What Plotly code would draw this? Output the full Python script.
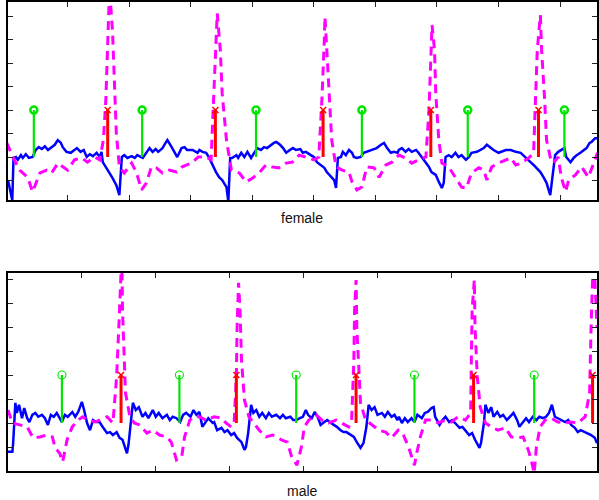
import plotly.graph_objects as go

# ---------------- female (top) ----------------
f_blue_t = [0.03,0.10,0.12,0.16,0.19,0.24,0.27,0.32,0.37,0.43,0.48,0.53,0.58,0.63,0.68,0.74,0.79,0.84,0.89,0.92,0.98,1.05,1.10,1.15,1.21,1.26,1.31,1.36,1.41,1.47,1.52,1.55,1.57,1.63,1.68,1.73,1.79,1.84,1.88,1.92,1.97,2.04,2.09,2.13,2.22,2.28,2.33,2.38,2.43,2.47,2.54,2.59,2.62,2.69,2.73,2.78,2.85,2.90,2.94,3.03,3.11,
            3.14,3.19,3.25,3.30,3.35,3.41,3.46,3.51,3.58,3.61,3.64,3.67,3.74,3.77,3.82,3.87,3.92,3.98,4.03,4.08,4.14,4.19,4.24,4.31,4.35,4.39,4.45,4.50,4.55,4.61,4.66,4.71,4.78,4.82,4.87,4.95,5.00,5.05,5.12,5.17,5.21,5.28,5.33,5.36,5.39,5.44,5.47,5.52,5.57,5.62,5.65,5.70,5.76,5.81,5.86,5.93,5.98,6.02,6.09,6.14,6.19,6.25,6.30,6.36,
            6.38,6.43,6.49,6.54,6.59,6.66,6.70,6.75,6.82,6.87,6.91,6.98,7.03,7.08,7.11,7.14,7.19,7.24,7.30,7.35,7.40,7.47,7.52,7.56,7.65,7.71,7.76,7.81,7.87,7.92,8.00,8.05,8.12,8.20,8.28,8.36,8.44,8.52,8.57,8.62,8.68,8.73,8.78,8.84,8.88,8.92,8.97,9.02,9.07,9.10,9.17,9.22,9.27,9.33,9.38,9.43,9.48,9.51,9.57,9.61]
f_blue_v = [-0.49,-0.92,-0.02,0.0,-0.06,0.04,-0.02,0.06,-0.02,0.0,0.15,0.21,0.17,0.23,0.15,0.21,0.26,0.36,0.30,0.21,0.11,0.09,0.15,0.19,0.11,0.15,0.0,0.06,0.02,0.09,0.0,0.11,-0.11,-0.23,-0.34,-0.45,-0.60,-0.81,0.0,0.04,-0.02,0.02,-0.02,0.04,-0.02,0.11,0.19,0.11,0.17,0.11,0.19,0.30,0.36,0.21,0.11,0.0,0.19,0.21,0.15,0.15,0.09,
            0.15,0.11,0.09,-0.02,-0.17,-0.32,-0.43,-0.49,-0.64,-0.95,-0.02,-0.02,0.04,-0.02,0.09,0.0,0.11,-0.02,0.09,0.19,0.15,0.21,0.19,0.26,0.30,0.32,0.26,0.19,0.09,0.15,0.19,0.15,0.17,0.09,0.11,0.04,0.0,-0.11,-0.17,-0.23,-0.32,-0.43,-0.49,-0.66,-0.02,0.0,0.11,0.04,0.15,0.09,0.0,-0.02,0.0,0.09,0.11,0.15,0.17,0.19,0.26,0.30,0.19,0.09,0.11,0.09,
            0.15,0.19,0.11,0.17,0.11,0.15,0.09,0.0,-0.11,-0.21,-0.32,-0.38,-0.53,-0.66,-0.55,0.0,0.04,0.0,0.09,0.0,0.04,-0.06,0.0,0.09,0.11,0.15,0.19,0.26,0.19,0.15,0.09,0.11,0.15,0.15,0.11,0.09,0.0,-0.11,-0.17,-0.23,-0.32,-0.43,-0.55,-0.81,-0.32,0.04,0.11,0.15,0.19,0.0,-0.11,-0.02,0.04,0.09,0.15,0.19,0.30,0.32,0.40,0.40]

f_mag_t = [0.01,0.11,0.22,0.35,0.43,0.55,0.66,0.74,0.84,0.92,1.00,1.11,1.23,1.32,1.44,1.52,1.58,1.62,1.65,1.68,1.73,1.76,1.79,1.84,1.92,2.04,2.12,2.20,2.28,2.36,2.44,2.54,2.65,2.77,2.86,3.01,3.12,3.25,3.33,3.37,3.40,3.43,3.48,3.51,3.58,3.66,3.79,3.90,4.00,4.11,4.22,4.31,4.43,4.55,4.65,4.76,4.87,5.00,5.08,5.13,5.17,5.18,5.21,5.26,5.29,5.36,5.46,5.57,5.62,5.70,5.78,5.86,5.98,6.06,6.17,6.27,6.38,6.49,6.59,6.70,6.82,6.87,6.90,6.92,6.96,6.98,7.03,7.08,7.19,7.32,7.40,7.48,7.56,7.68,7.76,7.81,7.89,8.00,8.12,8.20,8.28,8.37,8.49,8.57,8.60,8.63,8.68,8.70,8.75,8.78,8.84,8.89,8.97,9.02,9.09,9.14,9.25,9.35,9.46,9.54,9.61]
f_mag_v = [0.30,0.0,-0.28,-0.43,-0.74,-0.34,-0.28,-0.34,-0.13,-0.21,-0.28,-0.06,-0.02,-0.11,0.0,-0.06,0.36,1.21,2.28,3.6,2.64,1.57,0.51,-0.21,-0.34,-0.13,-0.34,-0.70,-0.55,-0.21,-0.23,-0.34,-0.28,-0.32,-0.21,-0.13,0.0,0.0,-0.06,1.21,2.28,3.06,2.28,1.36,0.36,-0.28,-0.34,-0.53,-0.45,-0.34,-0.17,-0.21,-0.23,-0.13,-0.11,0.04,0.0,-0.06,0.0,1.21,2.49,2.98,2.28,1.21,0.36,-0.21,-0.28,-0.32,-0.53,-0.70,-0.64,-0.21,-0.23,-0.43,-0.17,-0.11,0.04,-0.02,-0.13,-0.06,0.0,1.0,1.91,2.81,2.28,1.36,0.36,-0.13,-0.21,-0.49,-0.64,-0.66,-0.34,-0.23,-0.28,-0.49,-0.21,-0.13,-0.06,-0.02,-0.17,-0.13,-0.02,0.09,1.21,2.28,3.02,2.28,1.21,0.36,0.0,-0.13,0.0,-0.43,-0.74,-0.49,-0.38,-0.21,-0.43,-0.13,0.09]

f_onset_t = [0.45,2.21,4.06,5.78,7.50,9.07]
f_peak_t = [1.65,3.40,5.15,6.90,8.65]

# ---------------- male (bottom) ----------------
m_blue_t = [0.00,0.06,0.07,0.10,0.12,0.15,0.19,0.22,0.26,0.29,0.33,0.37,0.41,0.46,0.50,0.54,0.58,0.62,0.66,0.73,0.77,0.81,0.87,0.91,0.95,1.00,1.03,1.07,1.11,1.15,1.20,1.24,1.28,1.34,1.38,1.42,1.47,1.51,1.55,1.61,1.63,1.67,1.69,1.73,1.77,1.82,1.86,1.90,1.96,2.00,2.04,2.09,2.15,2.19,2.23,2.28,2.33,2.37,2.41,2.47,2.51,2.55,
            2.59,2.63,2.67,2.71,2.77,2.79,2.83,2.89,2.93,2.97,3.02,3.06,3.10,3.16,3.20,3.22,3.25,3.29,3.32,3.36,3.40,3.44,3.49,3.53,3.57,3.63,3.68,3.72,3.76,3.82,3.86,3.90,3.95,3.99,4.03,4.06,4.11,4.15,4.19,4.23,4.28,4.32,4.37,4.41,4.45,4.50,4.54,4.58,4.64,4.68,4.72,4.77,4.81,4.85,4.88,4.92,4.96,5.00,5.06,5.10,5.14,5.19,5.23,5.27,
            5.29,5.33,5.37,5.41,5.46,5.50,5.54,5.60,5.64,5.68,5.73,5.76,5.78,5.84,5.88,5.92,5.97,6.01,6.05,6.11,6.15,6.19,6.24,6.28,6.32,6.38,6.40,6.44,6.46,6.50,6.54,6.57,6.62,6.66,6.70,6.75,6.79,6.84,6.89,6.92,6.97,7.01,7.05,7.10,7.15,7.19,7.24,7.28,7.32,7.36,7.40,7.44,7.48,7.54,7.58,7.62,7.67,7.71,7.75,7.81,7.85,7.89,7.94,7.97]
m_blue_v = [-0.60,-0.60,-0.42,0.42,0.21,0.38,0.10,0.31,0.10,0.02,0.17,0.21,0.13,0.17,0.10,-0.04,0.17,0.13,0.21,0.02,0.17,0.13,0.23,0.13,0.23,0.44,0.27,0.0,-0.15,0.06,0.02,0.02,-0.08,-0.21,-0.19,-0.25,-0.19,-0.31,-0.35,-0.63,-0.46,0.13,0.42,0.27,0.33,0.13,0.21,0.10,0.27,0.13,0.21,0.10,0.17,0.06,0.13,0.10,0.02,0.17,0.21,0.13,0.27,0.17,
            0.23,-0.08,0.02,0.10,0.0,0.02,-0.15,-0.10,-0.19,-0.15,-0.25,-0.21,-0.31,-0.40,-0.56,-0.50,-0.21,0.38,0.21,0.27,0.13,0.21,0.10,0.21,0.13,0.17,0.10,0.17,0.10,0.13,0.06,0.06,0.10,0.13,0.27,0.17,0.10,0.23,0.13,-0.04,0.02,0.06,0.0,-0.04,-0.08,-0.15,-0.19,-0.19,-0.25,-0.29,-0.40,-0.52,-0.42,-0.08,0.38,0.27,0.33,0.17,0.21,0.13,0.23,0.13,0.17,0.06,
            0.13,0.0,0.10,0.02,0.10,0.02,0.17,0.10,0.21,0.23,0.31,0.33,0.13,-0.04,0.06,0.13,0.02,0.06,0.0,-0.10,-0.08,-0.15,-0.25,-0.21,-0.35,-0.52,-0.42,0.0,0.38,0.21,0.33,0.13,0.23,0.13,0.17,0.06,0.13,0.21,0.06,-0.08,0.02,0.10,0.02,0.13,0.06,0.13,0.10,0.13,0.21,0.38,0.13,0.10,0.06,0.02,0.06,-0.04,-0.10,-0.19,-0.15,-0.19,-0.21,-0.25,-0.31,-0.42]

m_mag_t = [0.00,0.06,0.16,0.26,0.34,0.43,0.53,0.60,0.64,0.70,0.74,0.80,0.87,0.95,1.01,1.08,1.18,1.24,1.34,1.42,1.47,1.50,1.53,1.54,1.55,1.57,1.59,1.65,1.71,1.78,1.88,1.96,2.05,2.15,2.21,2.28,2.35,2.39,2.46,2.52,2.59,2.68,2.79,2.89,2.95,3.02,3.06,3.09,3.10,3.12,3.14,3.16,3.20,3.26,3.33,3.40,3.49,3.58,3.70,3.78,3.84,3.91,3.97,4.01,4.07,4.17,4.25,4.34,4.44,4.52,4.61,4.65,4.68,4.69,4.71,4.72,4.75,4.77,4.84,4.92,5.02,5.11,5.19,5.28,5.35,5.42,5.46,5.50,5.53,5.58,5.65,5.73,5.82,5.92,6.00,6.09,6.19,6.26,6.27,6.28,6.31,6.32,6.35,6.39,6.46,6.54,6.63,6.73,6.81,6.90,6.97,7.04,7.08,7.12,7.15,7.20,7.27,7.35,7.44,7.54,7.62,7.71,7.81,7.87,7.89,7.91,7.94,7.97]
m_mag_v = [0.27,0.0,-0.04,-0.08,-0.31,-0.29,-0.25,-0.29,-0.52,-0.63,-0.81,-0.35,-0.08,0.06,0.13,0.06,0.02,0.06,0.13,0.0,0.96,2.0,3.04,3.5,2.35,1.31,0.63,0.13,0.0,-0.04,-0.21,-0.15,-0.25,-0.29,-0.40,-0.77,-0.71,-0.29,0.06,0.13,0.13,0.06,0.13,0.10,0.0,-0.08,0.0,0.96,2.0,2.92,2.35,1.31,0.48,0.13,0.0,-0.15,-0.29,-0.25,-0.35,-0.40,-0.71,-0.88,-0.50,-0.08,0.06,0.17,0.06,0.0,0.06,0.0,-0.08,0.06,1.31,2.35,2.98,2.0,0.96,0.42,0.06,-0.04,-0.15,-0.19,-0.31,-0.15,-0.25,-0.50,-0.71,-0.88,-0.63,-0.29,0.06,0.06,0.0,0.06,0.02,0.13,0.06,0.21,1.31,2.35,2.98,2.0,0.96,0.33,0.0,-0.08,-0.15,-0.10,-0.29,-0.31,-0.29,-0.56,-0.77,-1.05,-0.50,-0.08,0.06,0.10,0.02,0.0,0.02,0.0,0.13,0.63,2.0,2.98,3.04,2.0]

m_onset_t = [0.73,2.32,3.90,5.50,7.12]
m_peak_t = [1.53,3.09,4.71,6.30,7.91]

stem_height = 1.0

BLUE = "#0000FF"
MAG = "#FF00FF"
GREEN = "#00E600"
RED = "#FF0000"

fig = go.Figure()


def stems(ts, h):
    xs, ys = [], []
    for t in ts:
        xs += [t, t, None]
        ys += [0, h, None]
    return xs, ys


def add_panel(xa, ya, bt, bv, mt, mv, on, pk, circ_size, circ_lw):
    fig.add_trace(go.Scatter(x=bt, y=bv, mode="lines", xaxis=xa, yaxis=ya,
                             line=dict(color=BLUE, width=2.5)))
    fig.add_trace(go.Scatter(x=mt, y=mv, mode="lines", xaxis=xa, yaxis=ya,
                             line=dict(color=MAG, width=3, dash="9px,6px")))
    sx, sy = stems(on, stem_height)
    fig.add_trace(go.Scatter(x=sx, y=sy, mode="lines", xaxis=xa, yaxis=ya,
                             line=dict(color=GREEN, width=2.2)))
    fig.add_trace(go.Scatter(x=on, y=[stem_height] * len(on), mode="markers",
                             xaxis=xa, yaxis=ya, cliponaxis=False,
                             marker=dict(symbol="circle-open", size=circ_size, color=GREEN,
                                         line=dict(width=circ_lw, color=GREEN))))
    sx, sy = stems(pk, stem_height)
    fig.add_trace(go.Scatter(x=sx, y=sy, mode="lines", xaxis=xa, yaxis=ya,
                             line=dict(color=RED, width=3)))
    fig.add_trace(go.Scatter(x=pk, y=[stem_height] * len(pk), mode="markers",
                             xaxis=xa, yaxis=ya,
                             marker=dict(symbol="x-thin-open", size=6, color=RED,
                                         line=dict(width=1.5, color=RED))))


add_panel("x", "y", f_blue_t, f_blue_v, f_mag_t, f_mag_v, f_onset_t, f_peak_t, 7, 2.5)
add_panel("x2", "y2", m_blue_t, m_blue_v, m_mag_t, m_mag_v, m_onset_t, m_peak_t, 8, 1.1)

axis_common = dict(showgrid=False, zeroline=False, showticklabels=False,
                   ticks="inside", ticklen=5, tickwidth=1, tickcolor="#222",
                   showline=True, linecolor="black", linewidth=1.5, mirror="ticks")

xd = [8 / 599, 1.0]
fig.update_layout(
    width=599, height=500,
    margin=dict(l=0, r=0, t=0, b=0),
    paper_bgcolor="white", plot_bgcolor="white",
    showlegend=False,
    xaxis=dict(domain=xd, range=[0.03, 9.6], tick0=0, dtick=1, anchor="y", **axis_common),
    yaxis=dict(domain=[0.6, 0.996], range=[-0.915, 3.3], tick0=0, dtick=0.5, anchor="x", **axis_common),
    xaxis2=dict(domain=xd, range=[0.0, 7.97], tick0=0, dtick=1, anchor="y2", **axis_common),
    yaxis2=dict(domain=[0.058, 0.454], range=[-1.0, 3.125], tick0=0, dtick=0.5, anchor="x2", **axis_common),
    annotations=[
        dict(text="female", xref="paper", yref="paper", x=303.5 / 599, y=1 - 218 / 500,
             showarrow=False, xanchor="center", yanchor="middle",
             font=dict(family="Liberation Sans, Arial, sans-serif", size=14, color="#111")),
        dict(text="male", xref="paper", yref="paper", x=303.5 / 599, y=1 - 491 / 500,
             showarrow=False, xanchor="center", yanchor="middle",
             font=dict(family="Liberation Sans, Arial, sans-serif", size=14, color="#111")),
    ],
)

fig.write_html("out.html", config={"displayModeBar": False},
               post_script="document.body.style.margin='0px';document.body.style.padding='0px';document.body.style.overflow='hidden';")
